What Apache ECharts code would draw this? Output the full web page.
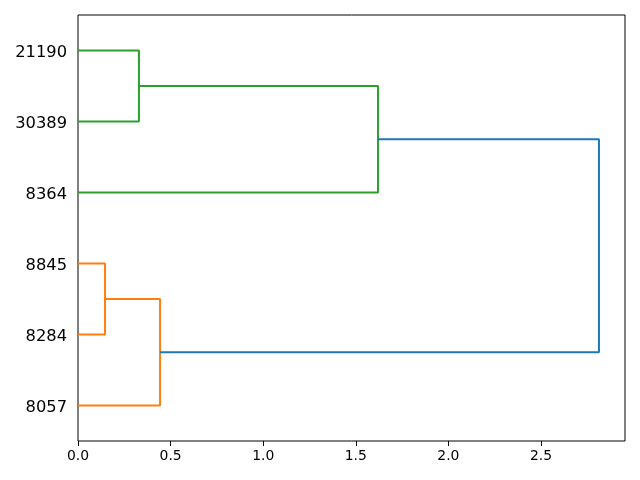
<!DOCTYPE html>
<html>
<head>
<meta charset="utf-8">
<script src="https://cdn.jsdelivr.net/npm/echarts@6/dist/echarts.min.js"></script>
<style>html,body{margin:0;padding:0;background:#fff}#c{width:640px;height:480px}</style>
</head>
<body>
<div id="c"></div>
<script>
// Leaves, bottom to top
const leaves = ['8057', '8284', '8845', '8364', '30389', '21190'];
// Link coordinates (scipy-style): icoord = leaf-axis positions, dcoord = distances
const icoord = [
  [15, 15, 25, 25],
  [5, 5, 20, 20],
  [45, 45, 55, 55],
  [35, 35, 50, 50],
  [12.5, 12.5, 42.5, 42.5]
];
const dcoord = [
  [0, 0.146, 0.146, 0],
  [0, 0.443, 0.443, 0.146],
  [0, 0.329, 0.329, 0],
  [0, 1.62, 1.62, 0.329],
  [0.443, 2.813, 2.813, 1.62]
];
const linkColors = ['#ff7f0e', '#ff7f0e', '#2ca02c', '#2ca02c', '#1f77b4'];
const xTicks = [0, 0.5, 1.0, 1.5, 2.0, 2.5];

const maxD = Math.max(...dcoord.flat());
const series = icoord.map((ys, i) => ({
  type: 'line',
  xAxisIndex: 0,
  yAxisIndex: 0,
  data: ys.map((y, k) => [dcoord[i][k], y]),
  symbol: 'none',
  silent: true,
  animation: false,
  lineStyle: { color: linkColors[i], width: 2 }
}));

const chart = echarts.init(document.getElementById('c'), null, { renderer: 'canvas' });
chart.setOption({
  animation: false,
  grid: [
    { left: 78, right: 15, top: 15, bottom: 39, show: true, borderColor: '#000', borderWidth: 1, backgroundColor: 'transparent' },
    { left: 78, right: 15, top: 17, bottom: 37, show: false }
  ],
  xAxis: [{
    type: 'value', gridIndex: 0, min: 0, max: maxD * 1.05, interval: 0.5,
    splitLine: { show: false },
    axisLine: { show: false },
    axisTick: { show: true, length: 5, lineStyle: { color: '#000', width: 1 }, customValues: xTicks },
    axisLabel: { color: '#000', fontSize: 13.9, fontFamily: 'DejaVu Sans', margin: 8,
      customValues: xTicks, formatter: v => v.toFixed(1) }
  }, {
    type: 'value', gridIndex: 1, min: 0, max: 1, show: false
  }],
  yAxis: [{
    type: 'value', gridIndex: 0, min: 0, max: leaves.length * 10, show: false, splitLine: { show: false }
  }, {
    type: 'category', gridIndex: 1, data: leaves, boundaryGap: true, position: 'left',
    axisLine: { show: false }, axisTick: { show: false }, splitLine: { show: false },
    axisLabel: { color: '#000', fontSize: 16.3, fontFamily: 'DejaVu Sans', margin: 11 }
  }],
  series: series
});
</script>
</body>
</html>
